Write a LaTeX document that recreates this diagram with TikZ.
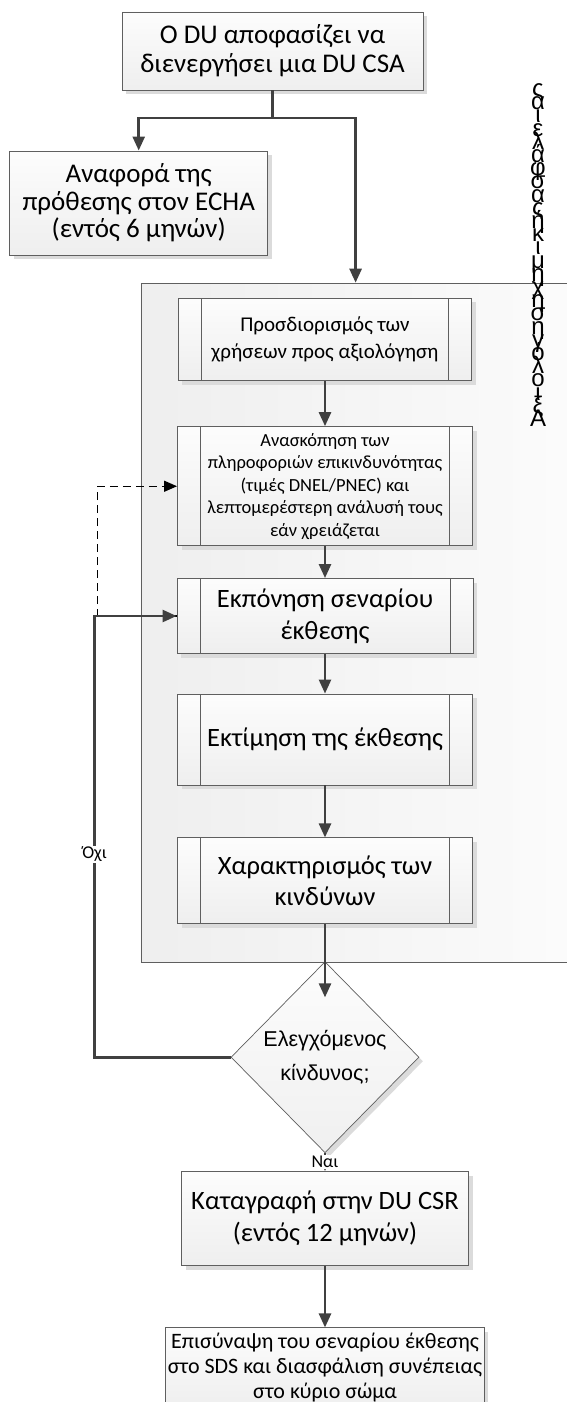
\documentclass[tikz,border=0pt]{standalone}
\usepackage{fontspec}
\setmainfont{Carlito}
\newfontfamily\arialfont{Liberation Sans}
\usetikzlibrary{positioning,arrows.meta,shapes.geometric,shadows,calc}
\definecolor{flowgray}{HTML}{404040}
\definecolor{edgegray}{HTML}{5F5F5F}
\tikzstyle{fbox}=[rectangle, draw=edgegray, line width=0.9pt, top color=gray!2,
                  bottom color=gray!13, align=center, inner sep=2pt,
                  drop shadow={shadow xshift=4pt, shadow yshift=-4pt, fill=gray!28, opacity=1}]
\tikzstyle{pbox}=[fbox, path picture={\draw[edgegray, line width=0.9pt]
 ([xshift=23pt]path picture bounding box.north west) -- ([xshift=23pt]path picture bounding box.south west)
 ([xshift=-23pt]path picture bounding box.north east) -- ([xshift=-23pt]path picture bounding box.south east);}]
\tikzstyle{panel}=[rectangle, draw=edgegray, line width=0.9pt, left color=gray!13,
                   right color=gray!2, anchor=north west]
\tikzstyle{decbox}=[diamond, draw=edgegray, line width=0.7pt, top color=gray!2,
                    bottom color=gray!12, inner sep=0pt, minimum width=188pt, minimum height=191pt,
                    drop shadow={shadow xshift=4pt, shadow yshift=-4pt, fill=gray!28, opacity=1}]
\tikzstyle{pline}=[-{Triangle[length=14pt,width=12pt]}, line width=2.6pt, draw=flowgray]
\tikzstyle{dline}=[-{Triangle[length=13pt,width=11pt]}, line width=1.3pt, dash pattern=on 8pt off 5pt, draw=black]
\tikzstyle{flag}=[fill=white, inner sep=1pt, font=\fontsize{18}{20}\selectfont]
\newcommand{\stackfont}{\arialfont\fontsize{24}{13.2}\selectfont\lineskiplimit=-100pt\relax}

\begin{document}
\begin{tikzpicture}
\useasboundingbox (0,0) rectangle (567pt,-1402pt);

\node (START) [fbox, minimum width=301pt, minimum height=78pt, font=\fontsize{27}{29}\selectfont]
 at (272.5pt,-51pt) {Ο DU αποφασίζει να\\διενεργήσει μια DU CSA};
\node (INTENT) [fbox, minimum width=258pt, minimum height=104pt, font=\fontsize{27}{27.5}\selectfont]
 at (138.7pt,-203pt) {Αναφορά της\\πρόθεσης στον ECHA\\(εντός 6 μηνών)};

\node (CSA) [panel, minimum width=470pt, minimum height=679.6pt] at (140.5pt,-282.7pt) {};

\node (USES) [pbox, minimum width=293.6pt, minimum height=82.4pt, font=\fontsize{21}{26.5}\selectfont]
 at (325pt,-339.5pt) {Προσδιορισμός των\\χρήσεων προς αξιολόγηση};
\node (HAZ) [pbox, below=45pt of USES, minimum width=295pt, minimum height=119.3pt,
 font=\fontsize{18.5}{22.5}\selectfont] {Ανασκόπηση των\\πληροφοριών επικινδυνότητας\\(τιμές DNEL/PNEC) και\\λεπτομερέστερη ανάλυσή τους\\εάν χρειάζεται};
\node (EXPO) [pbox, below=31.7pt of HAZ, minimum width=296pt, minimum height=75pt,
 font=\fontsize{26.5}{31.7}\selectfont] {Εκπόνηση σεναρίου\\έκθεσης};
\node (EST) [pbox, below=39.6pt of EXPO, minimum width=295pt, minimum height=91pt,
 font=\fontsize{26.5}{31}\selectfont] {Εκτίμηση της έκθεσης};
\node (RISK) [pbox, below=52pt of EST, minimum width=295pt, minimum height=86pt,
 font=\fontsize{26.5}{31.6}\selectfont] {Χαρακτηρισμός των\\κινδύνων};
\node (CTRL) [decbox, below=37pt of RISK,
 label={[font=\arialfont\fontsize{21.5}{34}\selectfont, align=center]center:Ελεγχόμενος\\κίνδυνος;}] {};
\node (REP) [fbox, below=18pt of CTRL, minimum width=287pt, minimum height=94pt,
 font=\fontsize{26.5}{32}\selectfont] {Καταγραφή στην DU CSR\\(εντός 12 μηνών)};
\node (SDS) [fbox, below=61.5pt of REP, minimum width=317.4pt, minimum height=80pt,
 font=\fontsize{22}{25}\selectfont] {Επισύναψη του σεναρίου έκθεσης\\στο SDS και διασφάλιση συνέπειας\\στο κύριο σώμα};

\node (VLAB) [align=center, inner sep=0pt, font=\stackfont]
 at (538pt,-255pt) {ς\\α\\ι\\ε\\λ\\ά\\φ\\σ\\α\\ς\\ή\\κ\\ι\\μ\\η\\χ\\η\\σ\\η\\γ\\ό\\λ\\ο\\ι\\ξ\\Α};

 \draw[pline] (START.south) -- ++(0,-27.7pt) -| (INTENT.north);
 \draw[pline] (START.south) -- ++(0,-27.7pt) -| ([xshift=215.1pt]CSA.north west);
 \draw[pline] (USES) -- (HAZ);
 \draw[pline] (HAZ) -- (EXPO);
 \draw[pline] (EXPO) -- (EST);
 \draw[pline] (EST) -- (RISK);
 \draw[pline] (RISK.south) -- ($(CTRL.north)+(0,-36pt)$);
 \draw[dline] (EXPO.west) -- ++(-79pt,0) |- (HAZ.west);
 \draw[pline] (CTRL.west) -| ([xshift=-82pt]EXPO.west) node[flag, pos=0.73] {Όχι} -- (EXPO.west);
 \draw[pline] (CTRL.south) -- (REP.north) node[flag, midway] {Ναι};
 \draw[pline] (REP) -- (SDS);

\end{tikzpicture}
\end{document}
